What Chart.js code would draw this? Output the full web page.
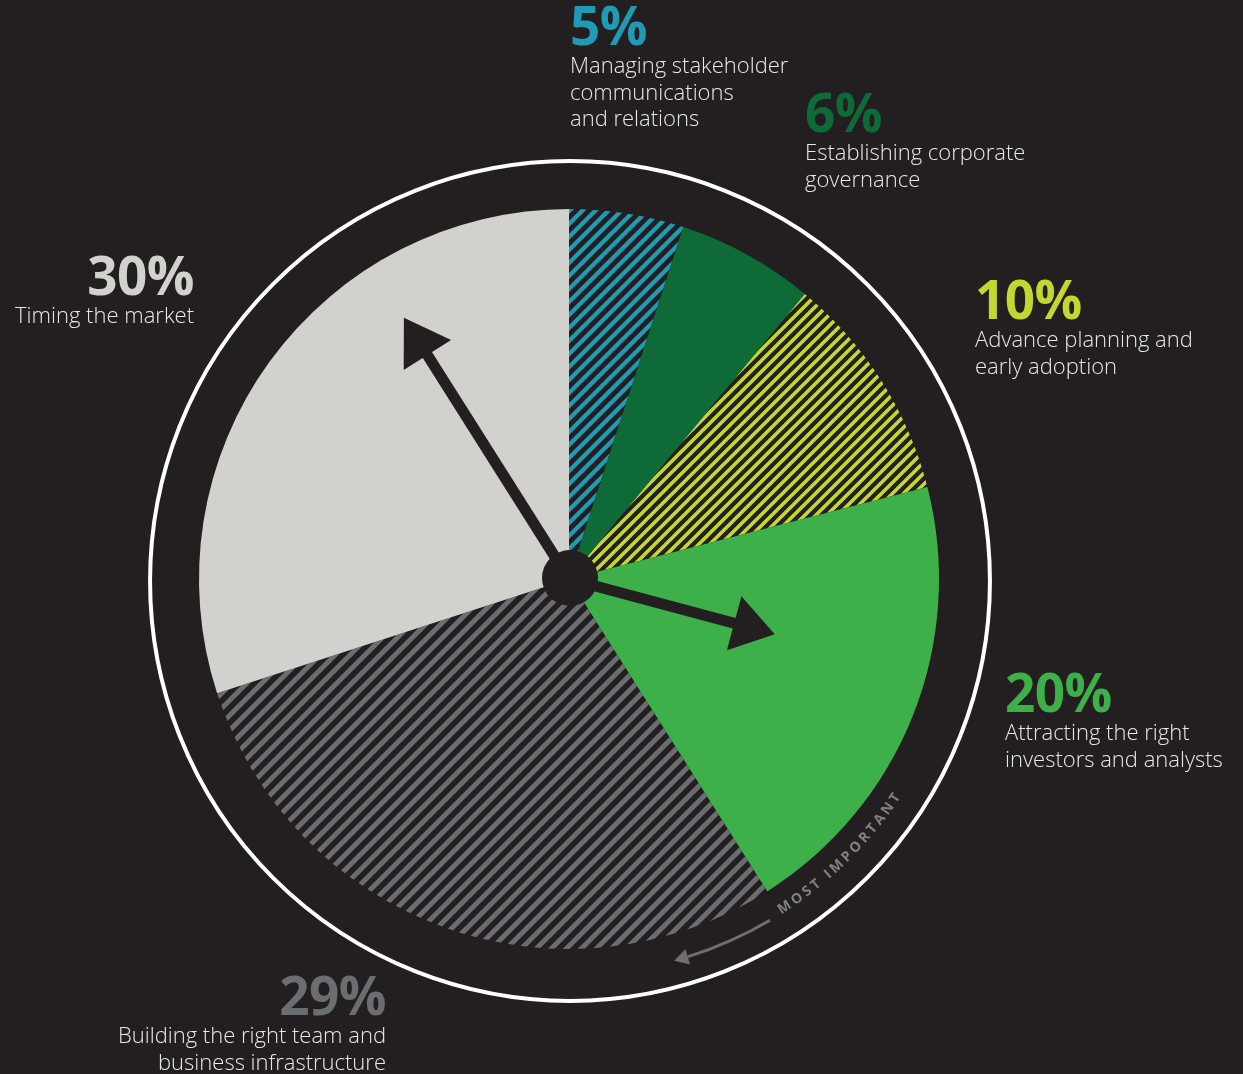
<!DOCTYPE html>
<html>
<head>
<meta charset="utf-8">
<script src="https://cdn.jsdelivr.net/npm/chart.js@4/dist/chart.umd.min.js"></script>
<style>
  html, body { margin: 0; padding: 0; background: #231f20; }
  #wrap { position: relative; width: 1243px; height: 1074px; overflow: hidden; }
  #pie { position: absolute; left: 0; top: 0; }
  .lab { position: absolute; font-family: "Open Sans", sans-serif; white-space: nowrap; }
  .lab .pct { font-size: 53px; line-height: 52px; font-weight: 700; letter-spacing: -0.5px; }
  .lab .txt { font-size: 22px; line-height: 26.5px; font-weight: 300; color: #e8e8e6; }
  .lab.right { text-align: right; }
</style>
</head>
<body>
<div id="wrap">
  <canvas id="pie" width="1243" height="1074"></canvas>
</div>
<script>
var BG = '#231f20';

// data, clockwise from 12 o'clock
var categories = [
    ['Managing stakeholder', 'communications', 'and relations'],
    ['Establishing corporate', 'governance'],
    ['Advance planning and', 'early adoption'],
    ['Attracting the right', 'investors and analysts'],
    ['Building the right team and', 'business infrastructure'],
    ['Timing the market']
];
var shares = [5, 6, 10, 20, 29, 30];
var sliceColors = ['#1f9bb6', '#0e6b37', '#c4d72e', '#3db04a', '#6b6d71', '#d1d1cd'];
var hatched = [true, false, true, false, true, false];

// where each label block sits (left/right edge, top) and how it aligns
var labelPos = [
    { x: 570, y: -1, align: 'left' },
    { x: 805, y: 86, align: 'left' },
    { x: 975, y: 273, align: 'left' },
    { x: 1005, y: 666, align: 'left' },
    { x: 386, y: 969, align: 'right' },
    { x: 194, y: 249, align: 'right' }
];

function stripes(color, size, width) {
    var c = document.createElement('canvas');
    c.width = size; c.height = size;
    var x = c.getContext('2d');
    x.fillStyle = BG;
    x.fillRect(0, 0, size, size);
    x.strokeStyle = color;
    x.lineWidth = width;
    x.beginPath();
    for (var k = -1; k <= 1; k++) {
        x.moveTo(k * size - size, 2 * size);
        x.lineTo(k * size + 2 * size, -size);
    }
    x.stroke();
    return x.createPattern(c, 'repeat');
}

var stripeSize = [13, 0, 11, 0, 15, 0];
var fills = sliceColors.map(function (col, i) {
    return hatched[i] ? stripes(col, stripeSize[i], stripeSize[i] * 0.33) : col;
});

// labels as html text
var wrap = document.getElementById('wrap');
categories.forEach(function (lines, i) {
    var p = labelPos[i];
    var d = document.createElement('div');
    d.className = 'lab' + (p.align == 'right' ? ' right' : '');
    d.style.top = p.y + 'px';
    if (p.align == 'right') d.style.right = (1243 - p.x) + 'px';
    else d.style.left = p.x + 'px';
    var pct = document.createElement('div');
    pct.className = 'pct';
    pct.style.color = sliceColors[i];
    pct.textContent = shares[i] + '%';
    var txt = document.createElement('div');
    txt.className = 'txt';
    txt.innerHTML = lines.join('<br>');
    d.appendChild(pct);
    d.appendChild(txt);
    wrap.appendChild(d);
});

function drawArrow(ctx, cx, cy, angDeg, len, shaftW, headLen, headHalf, color) {
    var a = angDeg * Math.PI / 180;
    var dx = Math.sin(a), dy = -Math.cos(a);
    var tx = cx + dx * len, ty = cy + dy * len;
    var bx = tx - dx * headLen, by = ty - dy * headLen;
    ctx.save();
    ctx.strokeStyle = color;
    ctx.fillStyle = color;
    ctx.lineWidth = shaftW;
    ctx.beginPath();
    ctx.moveTo(cx, cy);
    ctx.lineTo(bx + dx * 2, by + dy * 2);
    ctx.stroke();
    ctx.beginPath();
    ctx.moveTo(tx, ty);
    ctx.lineTo(bx - dy * headHalf, by + dx * headHalf);
    ctx.lineTo(bx + dy * headHalf, by - dx * headHalf);
    ctx.closePath();
    ctx.fill();
    ctx.restore();
}

var overlay = {
    id: 'overlay',
    afterDatasetsDraw: function (chart) {
        var ctx = chart.ctx;
        var arc = chart.getDatasetMeta(0).data[0];
        var cx = arc.x, cy = arc.y, r = arc.outerRadius;

        // outer white ring
        ctx.save();
        ctx.strokeStyle = '#ffffff';
        ctx.lineWidth = 4;
        ctx.beginPath();
        ctx.arc(cx + 1, cy + 2, r * 1.135, 0, Math.PI * 2);
        ctx.stroke();
        ctx.restore();

        // pointers
        drawArrow(ctx, cx, cy, 327.7, 309, 11, 44, 28, BG);
        drawArrow(ctx, cx, cy, 105, 213, 11, 42, 28, BG);

        ctx.save();
        ctx.fillStyle = BG;
        ctx.beginPath();
        ctx.arc(cx + 1, cy - 1, 28, 0, Math.PI * 2);
        ctx.fill();
        ctx.restore();

        // curved caption
        var text = 'MOST IMPORTANT';
        var rt = 393, spacing = 3;
        ctx.save();
        ctx.font = '700 14px "Open Sans", sans-serif';
        ctx.fillStyle = '#808184';
        ctx.textAlign = 'center';
        ctx.textBaseline = 'middle';
        var widths = text.split('').map(function (ch) { return ctx.measureText(ch).width + spacing; });
        var total = widths.reduce(function (s, w) { return s + w; }, 0) - spacing;
        var mid = 45.5 * Math.PI / 180;
        var th = mid + (total / 2) / rt;
        for (var i = 0; i < text.length; i++) {
            var w = widths[i];
            var a = th - (w - spacing) / 2 / rt;
            ctx.save();
            ctx.translate(cx + rt * Math.cos(a), cy + rt * Math.sin(a));
            ctx.rotate(a - Math.PI / 2);
            ctx.fillText(text[i], 0, 0);
            ctx.restore();
            th -= w / rt;
        }
        ctx.restore();

        // small curved arrow below caption
        var ra = 396;
        var a0 = 59.5 * Math.PI / 180, a1 = 72.5 * Math.PI / 180, aT = 74.6 * Math.PI / 180;
        ctx.save();
        ctx.strokeStyle = '#6d6e71';
        ctx.fillStyle = '#6d6e71';
        ctx.lineWidth = 3;
        ctx.beginPath();
        ctx.arc(cx, cy, ra, a0, a1);
        ctx.stroke();
        var tx = cx + ra * Math.cos(aT), ty = cy + ra * Math.sin(aT);
        var bx = cx + ra * Math.cos(aT - 0.036), by = cy + ra * Math.sin(aT - 0.036);
        var ux = tx - bx, uy = ty - by, ul = Math.sqrt(ux * ux + uy * uy);
        ux /= ul; uy /= ul;
        ctx.beginPath();
        ctx.moveTo(tx, ty);
        ctx.lineTo(bx - uy * 8, by + ux * 8);
        ctx.lineTo(bx + uy * 8, by - ux * 8);
        ctx.closePath();
        ctx.fill();
        ctx.restore();
    }
};

new Chart(document.getElementById('pie'), {
    type: 'pie',
    data: {
        labels: categories,
        datasets: [{ data: shares, backgroundColor: fills, borderWidth: 0 }]
    },
    options: {
        responsive: false,
        animation: false,
        layout: { padding: { left: 199, right: 304, top: 209, bottom: 125 } },
        plugins: { legend: { display: false }, tooltip: { enabled: false } }
    },
    plugins: [overlay]
});
</script>
</body>
</html>
